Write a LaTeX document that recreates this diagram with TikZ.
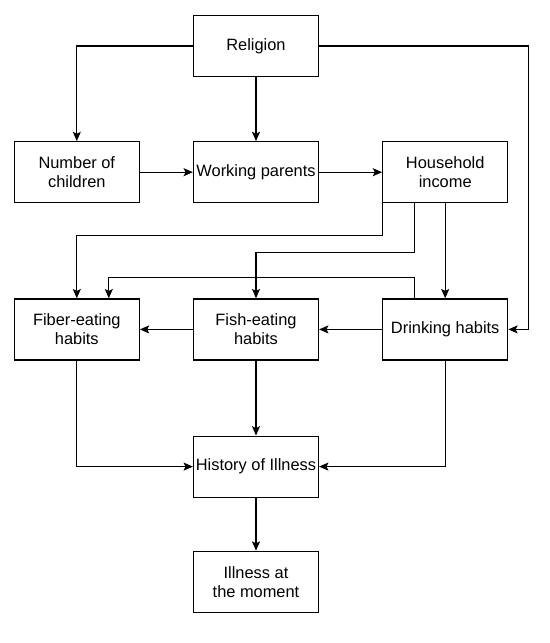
\documentclass[tikz,border=0pt]{standalone}
\usepackage{fontspec}
\setmainfont{Liberation Sans}
\usetikzlibrary{positioning,arrows.meta}
\begin{document}
\begin{tikzpicture}[main/.style = {draw, line width=0.9pt, minimum width=93.75pt, minimum height=45.75pt, inner sep=1pt, align=center, font=\fontsize{12.3}{14.5}\selectfont},
                    every path/.style = {line width=0.9pt},
                    >={Stealth[length=7pt,width=6pt,inset=1.5pt]}]
            \useasboundingbox (0,0) rectangle (412.5pt,-482.25pt);
            \node[main] (1) at (192pt,-34.5pt) {Religion};
            \node[main] (3) [below=48pt of 1] {Working parents};
            \node[main] (2) [left=39.75pt of 3] {Number of\\children};
            \node[main] (4) [right=47.25pt of 3] {Household\\income};
            \node[main] (6) [below=71.25pt of 3] {Fish-eating\\habits};
            \node[main] (5) [left=39.75pt of 6] {Fiber-eating\\habits};
            \node[main] (7) [right=47.25pt of 6] {Drinking habits};
            \node[main] (8) [below=56.25pt of 6] {History of Illness};
            \node[main] (9) [below=39.75pt of 8] {Illness at\\the moment};
            \draw[->] (1) -| (2);
            \draw[->] (1) -- (3);
            \draw[->] (1.east) -| ([xshift=15pt]7.east) -- (7.east);
            \draw[->] (2) -- (3);
            \draw[->] (3) -- (4);
            \draw[->] (4.south west) -- ++(0,-24pt) -| (5.north);
            \draw[->] ([xshift=24pt]4.south west) -- ++(0,-36.75pt) -| (6.north);
            \draw[->] (4) -- (7);
            \draw[->] ([xshift=24pt]7.north west) -- ++(0,15.75pt) -| ([xshift=24pt]5.north);
            \draw[->] (7) -- (6);
            \draw[->] (6) -- (5);
            \draw[->] (5) |- (8);
            \draw[->] (6) -- (8);
            \draw[->] (7) |- (8);
            \draw[->] (8) -- (9);
        \end{tikzpicture}
\end{document}
